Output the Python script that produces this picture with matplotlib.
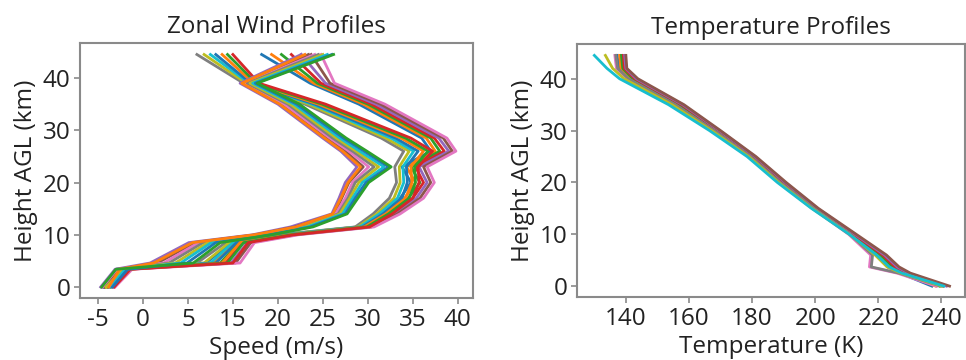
import matplotlib
matplotlib.use("Agg")
import matplotlib.pyplot as plt

plt.rcParams['font.family'] = ['Open Sans', 'DejaVu Sans']

# ---------------- Zonal wind ensemble ----------------
wind_heights = [0, 3.4, 4.6, 8.5, 10.0, 11.5, 14.0, 17.0, 20.0, 23.0, 26.0, 28.5, 35.0, 39.0, 44.5]

# members that peak low (~23 km) and turn back near 39 km
wind_low_peak = [
    [0.3, 1.9, 5.8, 10.1, 17.2, 21.4, 26.0, 26.8, 27.5, 28.8, 27.0, 25.0, 20.0, 15.8, 22.6],
    [0.7, 2.3, 6.6, 10.8, 17.6, 21.9, 26.3, 27.1, 27.9, 29.5, 27.5, 25.4, 20.4, 16.1, 23.4],
    [0.5, 2.1, 7.3, 11.2, 17.9, 22.3, 26.4, 27.5, 28.3, 30.1, 27.9, 25.8, 20.7, 16.4, 24.1],
    [1.1, 2.6, 7.9, 11.7, 18.1, 22.6, 26.7, 27.8, 28.6, 30.7, 28.3, 26.1, 21.1, 16.6, 24.5],
    [0.9, 2.8, 8.6, 12.2, 18.5, 23.0, 26.9, 28.0, 29.0, 31.2, 28.7, 26.5, 21.4, 16.9, 25.0],
    [1.4, 3.0, 9.2, 12.6, 18.7, 23.3, 27.2, 28.3, 29.4, 31.8, 29.1, 26.9, 21.8, 17.2, 25.5],
    [1.6, 3.3, 9.9, 13.1, 19.0, 23.6, 27.5, 28.6, 29.8, 32.3, 29.6, 27.3, 22.1, 17.5, 26.0],
    [1.2, 2.4, 6.2, 10.5, 17.4, 22.0, 26.1, 27.0, 27.8, 29.2, 27.2, 25.2, 20.2, 16.0, 23.0],
    [0.4, 2.0, 10.6, 13.6, 19.3, 23.9, 27.7, 28.9, 30.1, 32.6, 29.9, 27.6, 22.4, 17.7, 26.2],
]

# members peaking at ~26 km that weaken strongly aloft
wind_high_peak_weak = [
    [0.5, 2.2, 11.0, 14.2, 20.0, 28.6, 30.6, 32.4, 33.2, 33.0, 34.0, 31.5, 23.0, 16.2, 11.0],
    [0.9, 2.7, 11.8, 14.6, 20.3, 28.9, 31.0, 32.9, 33.6, 33.5, 34.6, 32.0, 23.4, 16.5, 11.8],
    [1.3, 3.1, 12.5, 15.0, 20.6, 29.1, 31.3, 33.3, 34.0, 33.9, 35.1, 32.6, 23.8, 16.8, 12.5],
    [0.7, 2.5, 13.1, 15.4, 20.9, 29.4, 31.7, 33.8, 34.4, 34.3, 35.6, 33.1, 24.1, 17.0, 13.1],
    [1.5, 3.4, 13.8, 15.8, 21.2, 29.6, 32.0, 34.2, 34.9, 34.8, 36.2, 33.7, 24.5, 17.3, 13.8],
    [1.1, 2.9, 14.4, 16.2, 21.5, 29.9, 32.3, 34.6, 35.3, 35.2, 36.7, 34.2, 24.9, 17.6, 14.4],
    [1.8, 3.6, 15.0, 16.7, 21.8, 30.2, 32.7, 35.0, 35.7, 35.6, 37.2, 34.8, 25.3, 17.9, 15.0],
]

# members peaking at ~26 km that stay strong aloft
wind_high_peak_strong = [
    [0.6, 2.0, 12.0, 14.8, 20.4, 28.8, 31.4, 33.6, 34.8, 33.8, 37.0, 36.0, 29.0, 23.6, 18.2],
    [1.0, 2.6, 12.9, 15.3, 20.8, 29.2, 31.9, 34.1, 35.3, 34.3, 37.5, 36.5, 29.5, 24.0, 19.3],
    [1.4, 3.2, 13.6, 15.7, 21.1, 29.5, 32.2, 34.5, 35.8, 34.8, 38.0, 37.0, 30.0, 24.4, 20.4],
    [0.8, 2.4, 14.2, 16.1, 21.4, 29.8, 32.6, 35.0, 36.2, 35.3, 38.5, 37.4, 30.4, 24.8, 21.5],
    [1.7, 3.5, 14.8, 16.6, 21.7, 30.1, 32.9, 35.4, 36.6, 35.7, 39.0, 37.9, 30.9, 25.3, 22.6],
    [1.2, 3.0, 15.3, 17.0, 22.0, 30.4, 33.3, 35.8, 37.0, 36.2, 39.4, 38.4, 31.4, 25.8, 23.7],
    [1.9, 3.8, 15.8, 17.4, 22.3, 30.7, 33.6, 36.2, 37.4, 36.6, 39.8, 38.8, 31.9, 26.3, 24.8],
]

wind_tick_pos = [0, 5, 10, 15, 20, 25, 30, 35, 40]
wind_tick_labels = ['-5', '0', '5', '15', '20', '25', '30', '35', '40']

# ---------------- Temperature ensemble ----------------
temp_heights = [0, 2.5, 3.7, 6.0, 10.0, 15.0, 20.0, 25.0, 30.0, 35.0, 40.0, 42.0, 44.5]

temp_profiles = [
    [237.0, 227.0, 223.0, 219.8, 211.0, 199.5, 189.0, 179.6, 168.2, 156.0, 141.0, 137.8, 137.2],
    [238.2, 227.8, 223.8, 220.3, 211.4, 199.8, 189.4, 179.9, 168.6, 156.6, 141.6, 138.4, 138.0],
    [239.4, 228.4, 224.6, 220.8, 211.8, 200.1, 189.8, 180.3, 169.0, 157.1, 142.2, 139.0, 138.6],
    [240.5, 229.0, 225.3, 221.4, 212.2, 200.4, 190.2, 180.6, 169.4, 157.6, 142.8, 139.5, 139.2],
    [241.6, 229.6, 226.0, 222.0, 212.6, 200.7, 190.5, 180.9, 169.7, 158.0, 143.3, 140.0, 139.6],
    [242.6, 230.2, 226.6, 222.6, 213.0, 201.0, 190.8, 181.2, 170.0, 158.4, 143.8, 140.3, 140.0],
    [238.5, 226.0, 217.2, 217.6, 210.6, 199.2, 188.7, 179.2, 167.8, 155.4, 140.5, 137.0, 136.5],
    [239.8, 226.6, 217.8, 218.2, 211.0, 199.5, 188.9, 179.4, 168.0, 155.7, 140.8, 137.4, 136.8],
    [240.2, 227.2, 222.8, 219.0, 210.9, 199.0, 188.4, 178.9, 167.2, 154.6, 139.4, 135.8, 133.5],
    [240.8, 227.5, 223.5, 219.5, 210.8, 198.8, 188.0, 178.4, 166.5, 153.5, 138.0, 134.0, 130.0],
]

temp_ticks = [140, 160, 180, 200, 220, 240]

# ---------------- Figure ----------------
W, H = 966, 360
fig = plt.figure(figsize=(W / 100, H / 100), dpi=100)

ax1 = fig.add_axes([80 / W, (H - 298) / H, (473 - 80) / W, (298 - 43) / H])
ax2 = fig.add_axes([577 / W, (H - 297) / H, (965 - 577) / W, (297 - 44) / H])

spine_col = '#8a8a8a'
text_col = '#222222'
lw = 2.0
fs = 17.5

members = wind_high_peak_strong + wind_high_peak_weak + wind_low_peak
for m in members:
    ax1.plot(m, wind_heights, lw=lw)

for t in temp_profiles:
    ax2.plot(t, temp_heights, lw=lw)

ax1.set_xlim(-2, 41.7)
ax1.set_ylim(-2.1, 46.7)
ax1.set_xticks(wind_tick_pos)
ax1.set_xticklabels(wind_tick_labels)
ax1.set_yticks([0, 10, 20, 30, 40])
ax1.set_title('Zonal Wind Profiles', fontsize=fs, color=text_col, pad=7)
ax1.set_xlabel('Speed (m/s)', fontsize=fs, color=text_col, labelpad=3)
ax1.set_ylabel('Height AGL (km)', fontsize=fs, color=text_col, labelpad=3)

ax2.set_xlim(124.5, 247.5)
ax2.set_ylim(-2.1, 46.7)
ax2.set_xticks(temp_ticks)
ax2.set_yticks([0, 10, 20, 30, 40])
ax2.set_title('Temperature Profiles', fontsize=fs, color=text_col, pad=7)
ax2.set_xlabel('Temperature (K)', fontsize=fs, color=text_col, labelpad=3)
ax2.set_ylabel('Height AGL (km)', fontsize=fs, color=text_col, labelpad=3)

for ax in (ax1, ax2):
    for s in ax.spines.values():
        s.set_color(spine_col)
        s.set_linewidth(1.5)
    ax.tick_params(axis='both', colors=spine_col, labelcolor=text_col,
                   labelsize=fs, length=4, width=1.2, pad=3)

fig.savefig('out.png', dpi=100)
